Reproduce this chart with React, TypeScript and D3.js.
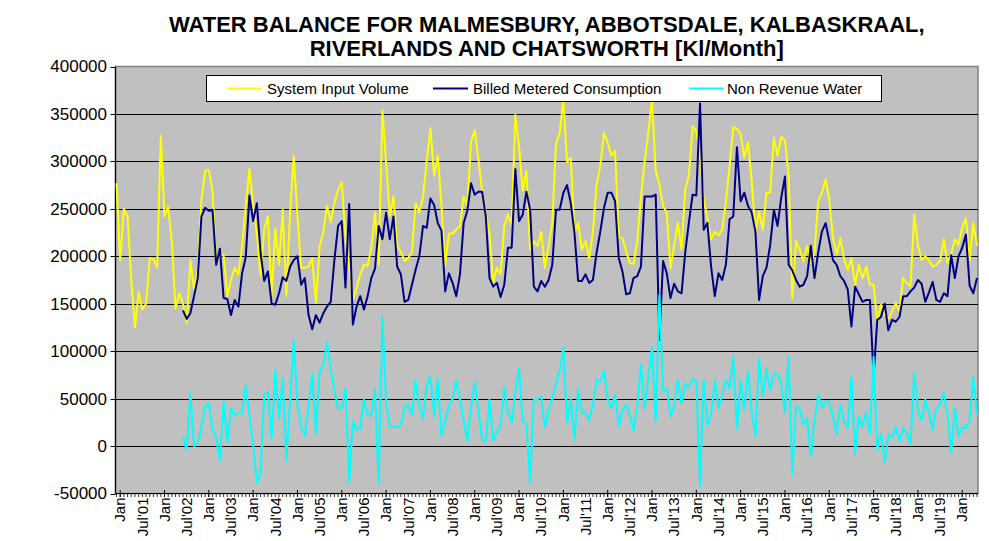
import React from "react";
import * as d3 from "d3";

// Monthly categories: Dec 2000 .. May 2020 (234 months)
const months: Date[] = d3.timeMonth.range(new Date(2000, 11, 1), new Date(2020, 5, 1));

const systemInputVolume: (number | null)[] = [
  277000, 196000, 250000, 242000, 175000, 125000, 162000, 144000, 150000, 198000, 197000, 188000,
  327000, 242000, 252000, 214000, 145000, 161000, 150000, 130000, 196000, 165000, 185000, 260000,
  290000, 291000, 268000, 193000, 200000, 202000, 158000, 175000, 188000, 181000, 210000, 253000,
  292000, 254000, 225000, 179000, 228000, 242000, 158000, 229000, 191000, 249000, 158000, 246000,
  306000, 242000, 188000, 188000, 189000, 198000, 151000, 210000, 226000, 253000, 236000, 256000,
  270000, 278000, 221000, 190000, 154000, 167000, 181000, 191000, 190000, 209000, 246000, 191000,
  354000, 299000, 242000, 263000, 211000, 205000, 195000, 198000, 205000, 256000, 246000, 263000,
  300000, 335000, 285000, 306000, 253000, 190000, 224000, 224000, 228000, 232000, 263000, 253000,
  321000, 333000, 302000, 269000, 246000, 225000, 172000, 188000, 181000, 232000, 244000, 233000,
  349000, 316000, 269000, 290000, 207000, 216000, 211000, 226000, 188000, 211000, 235000, 318000,
  330000, 365000, 299000, 304000, 225000, 235000, 207000, 216000, 198000, 226000, 276000, 295000,
  330000, 320000, 306000, 311000, 220000, 219000, 205000, 193000, 192000, 216000, 262000, 300000,
  330000, 365000, 290000, 276000, 253000, 246000, 187000, 211000, 235000, 207000, 270000, 285000,
  337000, 332000, 306000, 260000, 240000, 218000, 226000, 222000, 228000, 257000, 295000, 336000,
  334000, 329000, 304000, 320000, 279000, 226000, 247000, 228000, 267000, 267000, 325000, 306000,
  326000, 322000, 285000, 156000, 216000, 207000, 195000, 211000, 193000, 204000, 258000, 267000,
  281000, 260000, 219000, 202000, 219000, 197000, 186000, 198000, 170000, 191000, 177000, 189000,
  170000, 170000, 131000, 149000, 138000, 134000, 142000, 151000, 142000, 177000, 172000, 168000,
  244000, 212000, 196000, 200000, 196000, 189000, 191000, 195000, 218000, 193000, 202000, 218000,
  212000, 230000, 240000, 196000, 235000, 211000,
];

const billedMeteredConsumption: (number | null)[] = [
  null, null, null, null, null, null, null, null, null, null, null, null,
  null, null, null, null, null, null, 143000, 134000, 140000, 158000, 177000, 242000,
  251000, 248000, 249000, 191000, 208000, 156000, 155000, 138000, 154000, 147000, 182000, 199000,
  264000, 237000, 256000, 204000, 174000, 184000, 150000, 149000, 161000, 178000, 174000, 189000,
  196000, 200000, 170000, 177000, 138000, 123000, 138000, 130000, 140000, 147000, 152000, 196000,
  232000, 237000, 167000, 255000, 128000, 147000, 158000, 144000, 158000, 177000, 187000, 232000,
  218000, 246000, 218000, 242000, 189000, 181000, 152000, 154000, 170000, 186000, 200000, 232000,
  230000, 261000, 254000, 235000, 227000, 163000, 182000, 172000, 158000, 181000, 235000, 248000,
  277000, 265000, 268000, 268000, 242000, 177000, 168000, 172000, 157000, 170000, 209000, 209000,
  292000, 237000, 244000, 268000, 249000, 168000, 163000, 174000, 168000, 175000, 191000, 249000,
  249000, 267000, 275000, 256000, 225000, 174000, 174000, 181000, 172000, 175000, 204000, 226000,
  251000, 267000, 267000, 258000, 198000, 184000, 160000, 161000, 177000, 179000, 189000, 263000,
  263000, 263000, 265000, 112000, 195000, 182000, 156000, 171000, 163000, 161000, 204000, 236000,
  265000, 264000, 361000, 228000, 235000, 189000, 158000, 182000, 175000, 191000, 239000, 242000,
  315000, 258000, 267000, 253000, 246000, 226000, 154000, 179000, 188000, 212000, 249000, 232000,
  262000, 284000, 191000, 185000, 175000, 168000, 170000, 179000, 211000, 177000, 204000, 226000,
  235000, 216000, 196000, 191000, 179000, 174000, 165000, 126000, 168000, 160000, 152000, 154000,
  154000, 73000, 133000, 136000, 150000, 122000, 133000, 131000, 136000, 158000, 158000, 163000,
  167000, 175000, 171000, 152000, 162000, 173000, 154000, 152000, 161000, 158000, 201000, 177000,
  200000, 209000, 223000, 169000, 161000, 177000,
];

const nonRevenueWater: (number | null)[] = [
  null, null, null, null, null, null, null, null, null, null, null, null,
  null, null, null, null, null, null, 10000, -4000, 56000, 0, 3000, 19000,
  42000, 45000, 17000, 8000, -15000, 47000, 4000, 40000, 33000, 34000, 35000, 64000,
  31000, 1000, -38000, -29000, 54000, 57000, 8000, 80000, 29000, 71000, -15000, 49000,
  111000, 45000, 20000, 11000, 42000, 77000, 13000, 79000, 86000, 109000, 82000, 59000,
  39000, 40000, 61000, -38000, 26000, 17000, 19000, 49000, 33000, 32000, 60000, -39000,
  137000, 45000, 20000, 20000, 20000, 22000, 42000, 43000, 33000, 69000, 42000, 29000,
  64000, 73000, 32000, 71000, 11000, 27000, 42000, 50000, 69000, 49000, 27000, 5000,
  42000, 68000, 38000, 6000, 5000, 49000, 6000, 15000, 22000, 62000, 35000, 25000,
  57000, 82000, 26000, 23000, -39000, 49000, 49000, 52000, 20000, 38000, 50000, 66000,
  80000, 104000, 25000, 49000, 6000, 60000, 35000, 35000, 27000, 43000, 70000, 68000,
  79000, 50000, 40000, 54000, 21000, 38000, 44000, 32000, 16000, 42000, 86000, 40000,
  73000, 104000, 26000, 159000, 59000, 61000, 31000, 42000, 70000, 45000, 66000, 62000,
  71000, 68000, -43000, 70000, 22000, 33000, 70000, 40000, 54000, 70000, 61000, 94000,
  18000, 69000, 38000, 79000, 35000, 10000, 92000, 52000, 82000, 59000, 77000, 75000,
  66000, 36000, 94000, -29000, 42000, 40000, 23000, 29000, -10000, 26000, 54000, 41000,
  47000, 47000, 31000, 13000, 44000, 26000, 20000, 73000, -8000, 31000, 20000, 36000,
  13000, 94000, -4000, 13000, -17000, 12000, 9000, 20000, 5000, 19000, 14000, 2000,
  77000, 38000, 27000, 49000, 35000, 17000, 40000, 44000, 56000, 33000, -7000, 40000,
  10000, 20000, 19000, 26000, 73000, 33000,
];

const yTickValues = [-50000, 0, 50000, 100000, 150000, 200000, 250000, 300000, 350000, 400000];

// Category labels shown every 6 months, starting Jan 2001
const xTickLabels = [
  "Jan", "Jul'01", "Jan", "Jul'02", "Jan", "Jul'03", "Jan", "Jul'04", "Jan", "Jul'05",
  "Jan", "Jul'06", "Jan", "Jul'07", "Jan", "Jul'08", "Jan", "Jul'09", "Jan", "Jul'10",
  "Jan", "Jul'11", "Jan", "Jul'12", "Jan", "Jul'13", "Jan", "Jul'14", "Jan", "Jul'15",
  "Jan", "Jul'16", "Jan", "Jul'17", "Jan", "Jul'18", "Jan", "Jul'19", "Jan",
];

const seriesNames = ["System Input Volume", "Billed Metered Consumption", "Non Revenue Water"];
const seriesColors = ["#FFFF00", "#000080", "#00FFFF"];
const seriesData = [systemInputVolume, billedMeteredConsumption, nonRevenueWater];

const titleLines = [
  "WATER BALANCE FOR MALMESBURY, ABBOTSDALE, KALBASKRAAL,",
  "RIVERLANDS AND CHATSWORTH [Kl/Month]",
];

const W = 989;
const H = 541;
const plot = { left: 115.5, right: 978, top: 66.5, bottom: 493.5 };
const FONT = "'Liberation Sans', Arial, sans-serif";

export default function App() {
  const x = d3.scaleLinear().domain([0, months.length - 1]).range([116.5, 977]);
  const y = d3.scaleLinear().domain([-50000, 400000]).range([plot.bottom, plot.top]);

  const line = d3
    .line<number | null>()
    .defined((d) => d != null)
    .x((_, i) => x(i))
    .y((d) => y(d as number));

  const janStartIdx = months.findIndex((m) => m.getFullYear() === 2001 && m.getMonth() === 0);
  const labelIdx = xTickLabels.map((_, i) => janStartIdx + i * 6);
  const majorIdx = months.map((m, i) => (m.getMonth() === 0 ? i : -1)).filter((i) => i >= 0);

  const legend = { x: 206, y: 75, w: 675, h: 26 };
  const legendItems = [
    { lx: 227, tx: 267 },
    { lx: 433, tx: 473 },
    { lx: 689, tx: 727 },
  ];

  return (
    <svg
      width={W}
      height={H}
      style={{ position: "absolute", left: 0, top: 0, background: "#fff" }}
      fontFamily={FONT}
    >
      <rect x={0} y={0} width={W} height={H} fill="#fff" />
      {titleLines.map((t, i) => (
        <text
          key={i}
          x={(plot.left + plot.right) / 2}
          y={32 + i * 24}
          textAnchor="middle"
          fontWeight="bold"
          fontSize={22}
          fill="#000"
        >
          {t}
        </text>
      ))}

      {/* plot area */}
      <rect
        x={plot.left}
        y={plot.top}
        width={plot.right - plot.left}
        height={plot.bottom - plot.top}
        fill="#C0C0C0"
        stroke="#808080"
        strokeWidth={1.5}
      />

      {/* gridlines */}
      {yTickValues
        .filter((v) => v > -50000 && v < 400000)
        .map((v) => (
          <line key={v} x1={plot.left} x2={plot.right} y1={Math.round(y(v)) + 0.5} y2={Math.round(y(v)) + 0.5} stroke="#000" strokeWidth={1} />
        ))}

      {/* y axis */}
      <line x1={plot.left} x2={plot.left} y1={plot.top} y2={plot.bottom} stroke="#000" strokeWidth={1.2} />
      {yTickValues.map((v) => (
        <g key={v}>
          <line x1={plot.left - 5} x2={plot.left} y1={Math.round(y(v)) + 0.5} y2={Math.round(y(v)) + 0.5} stroke="#000" />
          <text x={107} y={y(v)} dy="0.35em" textAnchor="end" fontSize={17} fill="#000">
            {v}
          </text>
        </g>
      ))}

      {/* series */}
      {seriesData.map((s, i) => (
        <path key={i} d={line(s) || ""} fill="none" stroke={seriesColors[i]} strokeWidth={2} strokeLinejoin="round" />
      ))}

      {/* x axis */}
      <line x1={plot.left} x2={plot.right} y1={plot.bottom} y2={plot.bottom} stroke="#000" strokeWidth={1.2} />
      {months.map((_, i) => (
        <line key={i} x1={x(i)} x2={x(i)} y1={plot.bottom} y2={plot.bottom + 3.5} stroke="#000" strokeWidth={0.8} />
      ))}
      {majorIdx.map((i) => (
        <line key={"M" + i} x1={x(i)} x2={x(i)} y1={plot.bottom - 3.5} y2={plot.bottom + 3.5} stroke="#000" strokeWidth={1} />
      ))}
      {xTickLabels.map((t, i) => (
        <text
          key={"L" + i}
          transform={`translate(${x(labelIdx[i])},${plot.bottom + 4}) rotate(-90)`}
          textAnchor="end"
          dy="0.35em"
          fontSize={15}
          fill="#000"
        >
          {t}
        </text>
      ))}

      {/* legend */}
      <rect x={legend.x + 0.5} y={legend.y + 0.5} width={legend.w} height={legend.h} fill="#fff" stroke="#000" strokeWidth={1} />
      {seriesNames.map((n, i) => (
        <g key={n}>
          <line
            x1={legendItems[i].lx}
            x2={legendItems[i].lx + 35}
            y1={legend.y + legend.h / 2 + 0.5}
            y2={legend.y + legend.h / 2 + 0.5}
            stroke={seriesColors[i]}
            strokeWidth={2}
          />
          <text x={legendItems[i].tx} y={legend.y + legend.h / 2 + 0.5} dy="0.35em" fontSize={15} fill="#000">
            {n}
          </text>
        </g>
      ))}
    </svg>
  );
}
